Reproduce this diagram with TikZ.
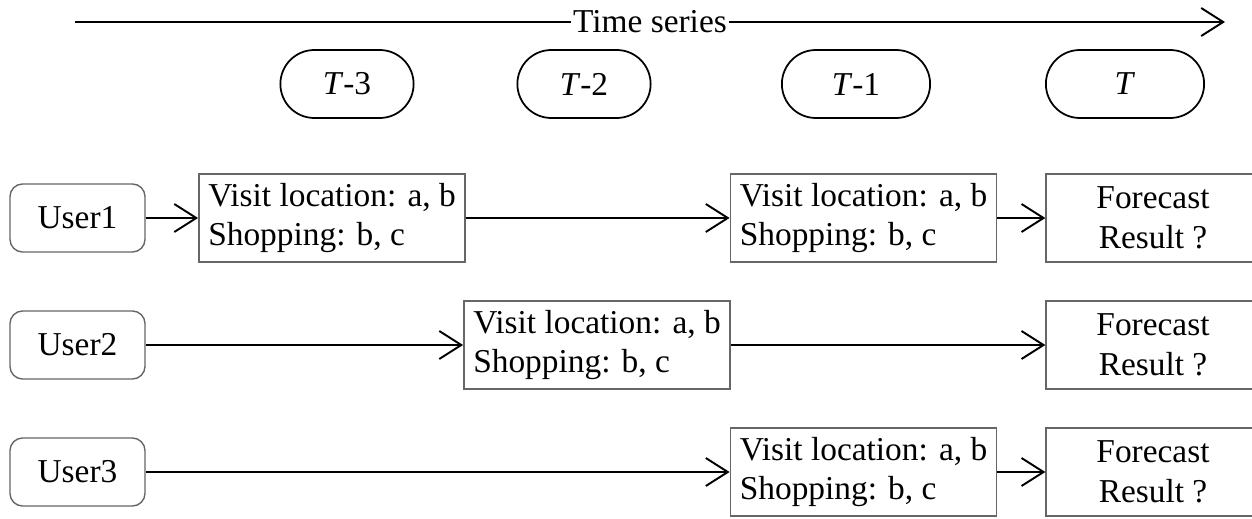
\documentclass[tikz,border=0pt]{standalone}
\usepackage{fontspec}
\setmainfont{Liberation Serif}
\usetikzlibrary{arrows.meta,shapes.misc}

\begin{document}
\begin{tikzpicture}[
			x=0.02cm, y=0.02cm,
			every node/.style = {font=\fontsize{19}{22.5}\selectfont},
			flow/.style = {draw, line width=1.1pt, -{Straight Barb[length=0.44cm, width=0.56cm]}},
			tick/.style = {shape=rounded rectangle, draw, line width=1pt,
				minimum width=2.9cm, minimum height=1.36cm},
			user/.style = {shape=rectangle, rounded corners=0.25cm, draw=black!60,
				line width=0.8pt, minimum width=2.7cm, minimum height=1.36cm},
			event/.style = {shape=rectangle, draw=black!60, line width=0.8pt,
				align=left, inner xsep=0.19cm, minimum height=1.76cm},
			result/.style = {shape=rectangle, draw=black!60, line width=0.8pt,
				align=center, minimum width=4.28cm, minimum height=1.76cm}
			]
			
			\useasboundingbox (0,0) rectangle (1252,518);
			
			% Time axis
			\coordinate (axisstart) at (75,496);
			\coordinate (axisend) at (1225,496);
			\draw[flow] (axisstart) -- node[fill=white, inner sep=1pt] {Time series} (axisend);
			
			% Time steps
			\node[tick] (t3) at (347,434) {\textit{T}-3};
			\node[tick] (t2) at (584,434) {\textit{T}-2};
			\node[tick, minimum width=3.2cm] (t1) at (856,434) {\textit{T}-1};
			\node[tick, minimum width=3.4cm] (t0) at (1125,434) {\textit{T}};
			
			% Users
			\node[user] (u1) at (77.5,300) {User1};
			\node[user] (u2) at (77.5,173) {User2};
			\node[user] (u3) at (77.5,46) {User3};
			
			% Recorded behaviour
			\node[event] (e1a) at (332,300) {Visit location: a, b\\Shopping: b, c};
			\node[event] (e1c) at (863.5,300) {Visit location: a, b\\Shopping: b, c};
			\node[event] (e2b) at (597,173) {Visit location: a, b\\Shopping: b, c};
			\node[event] (e3c) at (863.5,46) {Visit location: a, b\\Shopping: b, c};
			
			% Forecasts at T
			\node[result] (r1) at (1153,300) {Forecast\\Result ?};
			\node[result] (r2) at (1153,173) {Forecast\\Result ?};
			\node[result] (r3) at (1153,46) {Forecast\\Result ?};
			
			\draw[flow] (u1) -- (e1a);
			\draw[flow] (e1a) -- (e1c);
			\draw[flow] (e1c) -- (r1);
			\draw[flow] (u2) -- (e2b);
			\draw[flow] (e2b) -- (r2);
			\draw[flow] (u3) -- (e3c);
			\draw[flow] (e3c) -- (r3);
			
		\end{tikzpicture}
\end{document}
